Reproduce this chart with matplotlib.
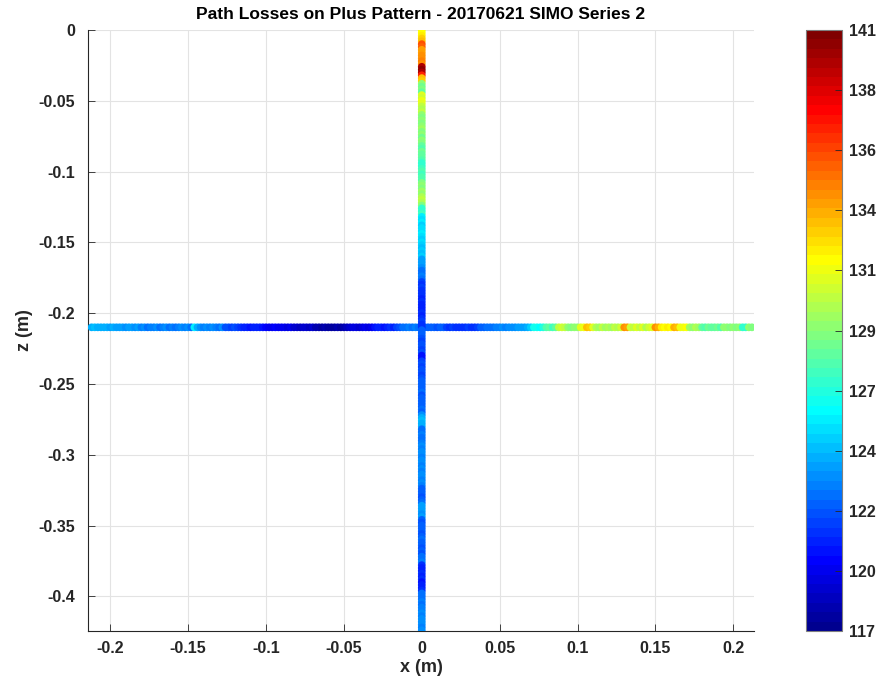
import numpy as np
import matplotlib
matplotlib.use("Agg")
import matplotlib.pyplot as plt
from matplotlib.colors import ListedColormap, Normalize

plt.rcParams['font.family'] = ['Liberation Sans', 'DejaVu Sans']
plt.rcParams['axes.unicode_minus'] = False

# ---------------- data ----------------
title = "Path Losses on Plus Pattern - 20170621 SIMO Series 2"
z_horizontal = -0.210
x_start, x_step = -0.212, 0.002
horiz_loss = [
    124.0, 124.2, 123.8, 124.1, 123.9, 124.0, 123.6, 123.8, 123.4, 123.6,
    123.5, 123.3, 123.6, 123.4, 123.2, 123.5, 122.8, 123.0, 122.6, 122.9,
    122.7, 123.1, 122.5, 122.8, 123.0, 122.6, 122.9, 122.4, 122.8, 123.1,
    122.7, 123.0, 122.6, 125.6, 124.0, 123.2, 122.9, 123.1, 122.8, 123.0,
    122.9, 122.6, 123.0, 121.8, 121.5, 121.3, 121.6, 121.2, 120.8, 120.5,
    120.6, 120.3, 120.7, 120.4, 120.5, 120.2, 119.8, 119.6, 119.4, 119.7,
    119.5, 119.3, 119.6, 119.2, 119.4, 118.8, 118.6, 118.4, 118.7, 118.5,
    118.3, 118.6, 118.0, 117.8, 117.6, 117.9, 117.5, 117.7, 117.4, 117.8,
    117.6, 117.9, 118.2, 118.5, 118.9, 119.1, 118.8, 119.2, 119.4, 119.0,
    119.6, 120.1, 120.4, 120.7, 120.3, 120.6, 120.9, 120.5, 121.2, 121.8,
    122.3, 122.6, 122.8, 122.4, 122.7, 122.5, 122.2, 122.0, 121.9, 122.1,
    122.0, 121.8, 122.2, 121.9, 121.4, 121.0, 121.2, 120.8, 121.1, 120.9,
    121.0, 121.3, 120.8, 121.1, 121.4, 121.9, 122.2, 122.4, 122.6, 122.3,
    122.7, 122.9, 123.0, 122.8, 123.1, 123.3, 123.2, 123.5, 123.4, 123.6,
    123.8, 124.5, 126.0, 126.3, 125.9, 126.6, 127.6, 128.0, 127.4, 128.2,
    130.4, 130.8, 130.2, 129.2, 128.9, 129.3, 129.0, 131.0, 131.4, 133.2,
    133.0, 131.2, 130.0, 129.6, 130.3, 129.4, 130.1, 129.7, 130.4, 129.8,
    130.6, 134.6, 134.2, 130.8, 130.2, 131.0, 130.4, 130.9, 130.1, 130.7,
    131.2, 134.3, 133.8, 132.0, 131.8, 132.3, 131.9, 133.6, 133.2, 131.6,
    131.3, 131.7, 129.6, 129.3, 129.8, 129.4, 128.2, 127.8, 128.3, 127.9,
    128.1, 128.4, 127.7, 129.0, 129.3, 128.8, 129.2, 128.9, 129.1, 127.0,
    126.8, 129.0, 128.8,
]
x_vertical = 0.0
z_start, z_step = 0.0, -0.002
vert_loss = [
    131.6, 131.9, 132.2, 133.0, 133.2, 136.0, 135.6, 134.2, 133.9, 134.3,
    134.6, 134.8, 134.3, 139.8, 140.5, 139.6, 137.2, 133.4, 133.0, 129.0,
    128.4, 128.7, 128.2, 131.2, 130.8, 131.3, 130.9, 130.4, 130.0, 130.2,
    129.2, 128.9, 129.3, 128.8, 129.1, 129.4, 128.7, 129.0, 128.6, 129.2,
    128.9, 128.1, 127.8, 128.3, 127.9, 128.2, 127.6, 127.0, 126.8, 127.2,
    127.6, 127.3, 127.8, 127.5, 128.7, 129.2, 128.9, 129.4, 129.1, 130.1,
    130.4, 129.8, 128.8, 127.1, 126.8, 127.2, 125.3, 125.0, 125.4, 124.8,
    125.2, 124.9, 125.3, 125.1, 124.7, 125.0, 124.6, 124.4, 124.7, 124.3,
    124.5, 123.6, 123.4, 123.7, 123.3, 122.6, 122.4, 122.7, 122.3, 121.2,
    121.0, 121.3, 120.9, 121.1, 120.8, 120.6, 120.9, 120.5, 120.7, 120.4,
    120.8, 120.6, 121.0, 121.2, 120.9, 121.1, 122.0, 122.2, 121.9, 121.6,
    121.4, 121.7, 121.5, 121.3, 121.6, 120.3, 120.1, 121.4, 121.6, 121.3,
    121.7, 121.5, 121.4, 121.8, 122.0, 122.2, 121.9, 122.1, 122.3, 121.8,
    122.0, 122.2, 121.9, 122.1, 122.4, 121.9, 123.0, 124.0, 124.3, 123.8,
    124.1, 122.6, 122.4, 122.8, 122.5, 122.3, 122.7, 123.0, 122.8, 123.1,
    123.2, 122.9, 123.0, 123.3, 122.8, 123.1, 122.9, 123.2, 123.0, 122.8,
    123.1, 122.9, 122.1, 121.9, 122.2, 121.8, 122.0, 122.3, 123.4, 123.7,
    123.5, 123.2, 123.6, 122.1, 121.8, 122.2, 121.9, 122.0, 121.7, 122.1,
    122.3, 121.9, 122.0, 121.6, 122.2, 121.8, 122.6, 122.4, 122.7, 120.9,
    120.6, 120.4, 120.8, 120.5, 120.9, 120.3, 120.7, 120.6, 121.0, 122.4,
    122.6, 122.3, 122.8, 122.5, 122.7, 122.9, 123.1, 122.8, 123.2, 123.0,
    123.3, 122.9, 123.1,
]
c_min, c_max = 117.0, 141.0
cbar_labels = ["117", "120", "122", "124", "127", "129", "131", "134", "136", "138", "141"]
x_ticks = [-0.2, -0.15, -0.1, -0.05, 0, 0.05, 0.1, 0.15, 0.2]
z_ticks = [0, -0.05, -0.1, -0.15, -0.2, -0.25, -0.3, -0.35, -0.4]

# ---------------- MATLAB jet(64) colormap ----------------
def matlab_jet(m=64):
    n = int(np.ceil(m / 4))
    u = np.concatenate([np.arange(1, n + 1) / n, np.ones(n - 1), np.arange(n, 0, -1) / n])
    g = int(np.ceil(n / 2)) - (1 if m % 4 == 1 else 0) + np.arange(1, len(u) + 1)
    r = g + n
    b = g - n
    J = np.zeros((m, 3))
    rm = r <= m
    J[r[rm] - 1, 0] = u[:rm.sum()]
    gm = g <= m
    J[g[gm] - 1, 1] = u[:gm.sum()]
    bm = b >= 1
    J[b[bm] - 1, 2] = u[-bm.sum():]
    return ListedColormap(J)

cmap = matlab_jet(64)
norm = Normalize(vmin=c_min, vmax=c_max)

hx = x_start + x_step * np.arange(len(horiz_loss))
hz = np.full(len(horiz_loss), z_horizontal)
vz = z_start + z_step * np.arange(len(vert_loss))
vx = np.full(len(vert_loss), x_vertical)

W, H = 895, 682
fig = plt.figure(figsize=(W / 100, H / 100), dpi=100)
ax = fig.add_axes([88 / W, 1 - 631 / H, (754 - 88) / W, (631 - 30) / H])
cax = fig.add_axes([806 / W, 1 - 631 / H, 36 / W, (631 - 30) / H])

ms = 31
ax.scatter(hx, hz, c=horiz_loss, cmap=cmap, norm=norm, s=ms, linewidths=0, zorder=3)
sc = ax.scatter(vx, vz, c=vert_loss, cmap=cmap, norm=norm, s=ms, linewidths=0, zorder=3)

ax.set_xlim(-0.2143, 0.2133)
ax.set_ylim(-0.4245, 0.0)
ax.set_xticks(x_ticks)
ax.set_yticks(z_ticks)
ax.set_xticklabels(["%g" % t for t in x_ticks])
ax.set_yticklabels(["%g" % t for t in z_ticks])
ax.grid(True, color="#e3e3e3", linewidth=0.8, zorder=0)
ax.set_axisbelow(True)
for s in ["top", "right"]:
    ax.spines[s].set_visible(False)
for s in ["left", "bottom"]:
    ax.spines[s].set_color("#262626")
    ax.spines[s].set_linewidth(0.8)
ax.tick_params(direction="in", length=5, width=0.6, colors="#262626", labelsize=11.5)
ax.tick_params(axis="x", pad=7)
ax.tick_params(axis="y", pad=9)
for lab in ax.get_xticklabels() + ax.get_yticklabels():
    lab.set_fontweight("bold")
ax.set_xlabel("x (m)", fontsize=13, fontweight="bold", color="#262626", labelpad=2)
ax.set_ylabel("z (m)", fontsize=13, fontweight="bold", color="#262626", labelpad=4)
ax.set_title(title, fontsize=12.5, fontweight="bold", color="#000000", pad=8)

cb = fig.colorbar(sc, cax=cax)
cb.set_ticks(np.linspace(c_min, c_max, len(cbar_labels)))
cb.set_ticklabels(cbar_labels)
cb.outline.set_edgecolor("#7f7f7f")
cb.outline.set_linewidth(0.8)
cax.tick_params(direction="in", length=5, width=0.6, colors="#262626", labelsize=11.5, pad=5)
for lab in cax.get_yticklabels():
    lab.set_fontweight("bold")

fig.savefig("out.png", dpi=100)
